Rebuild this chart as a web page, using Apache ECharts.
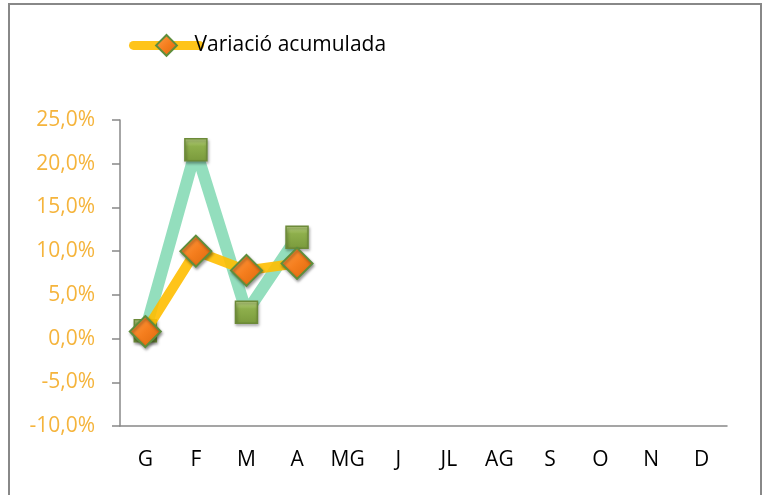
<!DOCTYPE html>
<html><head><meta charset="utf-8">
<script src="https://cdn.jsdelivr.net/npm/echarts@6/dist/echarts.min.js"></script>
<style>html,body{margin:0;padding:0;background:#fff}#c{width:764px;height:495px}</style>
</head><body><div id="c"></div>
<script>
const categories = ['G','F','M','A','MG','J','JL','AG','S','O','N','D'];
const acumulada = [0.8, 10.0, 7.8, 8.6, null, null, null, null, null, null, null, null];
const mensual = [0.9, 21.6, 3.0, 11.6, null, null, null, null, null, null, null, null];
const yTicks = {min: -10, max: 25, interval: 5};

const chart = echarts.init(document.getElementById('c'));
const font = '"Open Sans", "Liberation Sans", sans-serif';
chart.setOption({
  animation: false,
  backgroundColor: '#fff',
  graphic: [{type:'rect', shape:{x:9,y:4,width:752,height:520}, style:{fill:'none', stroke:'#888', lineWidth:2}, z:-1}],
  grid: {left:120, top:120, right:37, bottom:69},
  legend: {
    data: ['Variació acumulada'], left: 124, top: 29, itemWidth: 66, itemHeight: 26, itemGap: 0,
    lineStyle: {width: 9, cap: 'round'},
    textStyle: {fontFamily: font, fontSize: 21, color: '#000', padding:[0,0,0,-10]}
  },
  xAxis: {
    type: 'category', data: categories, boundaryGap: true,
    axisLine: {onZero: false, lineStyle: {color: '#888', width: 1.5}},
    axisTick: {show: false},
    axisLabel: {fontFamily: font, fontSize: 21, color: '#000', margin: 24}
  },
  yAxis: {
    type: 'value', min: yTicks.min, max: yTicks.max, interval: yTicks.interval,
    splitLine: {show: false},
    axisLine: {show: true, lineStyle: {color: '#888', width: 1.5}},
    axisTick: {show: true, length: 8, lineStyle: {color: '#888', width: 1.5}},
    axisLabel: {fontFamily: font, fontSize: 21, color: '#F5B43C', margin: 25,
      formatter: v => v.toFixed(1).replace('.', ',') + '%'}
  },
  series: [
    {
      name: 'Variació mensual', type: 'line', data: mensual, z: 2,
      symbol: 'rect', symbolSize: 22,
      lineStyle: {color: 'rgba(120,214,172,0.8)', width: 12},
      itemStyle: {
        color: new echarts.graphic.LinearGradient(0,0,0,1,[{offset:0,color:'#C2DA8A'},{offset:0.35,color:'#8EAF4C'},{offset:1,color:'#7A9A3C'}]),
        borderColor: '#6C8A38', borderWidth: 1.5,
        shadowColor: 'rgba(0,0,0,0.35)', shadowBlur: 3, shadowOffsetX: 1, shadowOffsetY: 2
      }
    },
    {
      name: 'Variació acumulada', type: 'line', data: acumulada, z: 3,
      symbol: 'diamond', symbolSize: 31,
      lineStyle: {color: 'rgba(255,190,0,0.9)', width: 10},
      itemStyle: {
        color: new echarts.graphic.LinearGradient(0,0,1,1,[{offset:0,color:'#FFA04A'},{offset:0.5,color:'#F57E1E'},{offset:1,color:'#D9650A'}]),
        borderColor: '#5E8E3C', borderWidth: 2,
        shadowColor: 'rgba(0,0,0,0.35)', shadowBlur: 3, shadowOffsetX: 1, shadowOffsetY: 2
      }
    }
  ]
});
</script></body></html>
